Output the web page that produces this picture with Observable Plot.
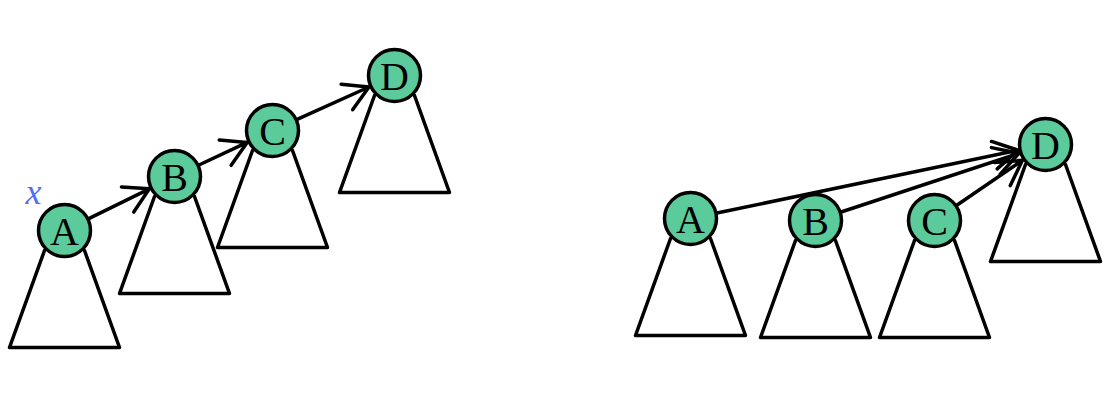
<!DOCTYPE html>
<html><head><meta charset="utf-8">
<script src="https://cdn.jsdelivr.net/npm/d3@7"></script>
<script src="https://cdn.jsdelivr.net/npm/@observablehq/plot@0.6"></script>
<style>body{margin:0;background:#fff}</style>
</head><body><div id="c"></div>
<script>
const names = ["A","B","C","D","A","B","C","D"];
const nodeX = [64,174,272,394,690,815,934,1045];
const nodeY = [230,176,130,75,218,220,220,144];
const parent = [1,2,3,null,7,7,7,null];
const nodes = names.map((n,i)=>({n,x:nodeX[i],y:nodeY[i],i}));
const tri = [];
nodes.forEach(d=>{
  tri.push({z:d.i,x:d.x-20,y:d.y+20},{z:d.i,x:d.x-55,y:d.y+117},{z:d.i,x:d.x+55,y:d.y+117},{z:d.i,x:d.x+20,y:d.y+20});
});
const edges = nodes.filter(d=>parent[d.i]!=null).map(d=>({x1:d.x,y1:d.y,x2:nodeX[parent[d.i]],y2:nodeY[parent[d.i]]}));
const chart = Plot.plot({
  width:1118,height:414,margin:0,
  x:{domain:[0,1118],axis:null},
  y:{domain:[414,0],axis:null},
  marks:[
    Plot.line(tri,{x:"x",y:"y",z:"z",stroke:"black",strokeWidth:3.5}),
    Plot.arrow(edges,{x1:"x1",y1:"y1",x2:"x2",y2:"y2",stroke:"black",strokeWidth:3.5,insetStart:27,insetEnd:28,headLength:12}),
    Plot.dot(nodes,{x:"x",y:"y",r:26,fill:"#5ccb9b",stroke:"black",strokeWidth:3.5}),
    Plot.text(nodes,{x:"x",y:"y",text:"n",fontSize:40,fontFamily:"Liberation Serif",fill:"black",dy:2}),
    Plot.text([{t:"x"}],{x:()=>33,y:()=>192,text:"t",fontSize:36,fontStyle:"italic",fontFamily:"Liberation Serif",fill:"#4f6ff5"})
  ]
});
document.getElementById("c").append(chart);
</script></body></html>
